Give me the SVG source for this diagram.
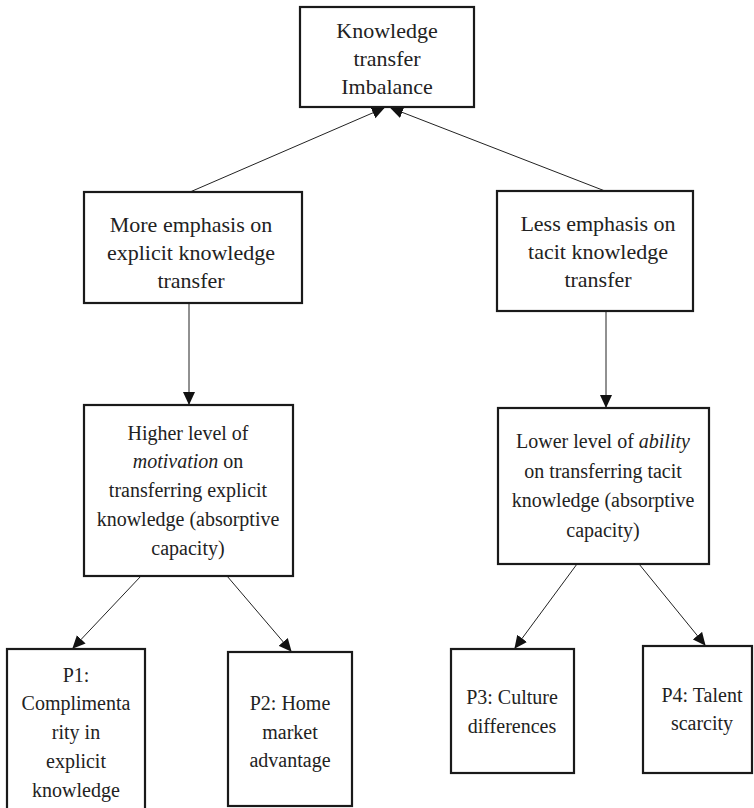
<svg xmlns="http://www.w3.org/2000/svg" width="754" height="808" viewBox="0 0 754 808">
<style>
.box{fill:#fff;stroke:#1a1a1a;stroke-width:2.2}
.l{font-size:22px}
.s{font-size:20px}
.c{stroke:#222;stroke-width:1;fill:none;marker-end:url(#ah)}
</style>
<defs>
<marker id="ah" markerUnits="userSpaceOnUse" markerWidth="13" markerHeight="13" refX="12" refY="6.5" orient="auto" viewBox="0 0 13 13">
<path d="M0,0.5 L13,6.5 L0,12.5 z" fill="#111"/>
</marker>
</defs>
<g id="connectors">
<line class="c" x1="190" y1="192" x2="384" y2="108"/>
<line class="c" x1="605" y1="191" x2="391" y2="108"/>
<line class="c" x1="189" y1="303" x2="189" y2="404"/>
<line class="c" x1="606" y1="311" x2="606" y2="407"/>
<line class="c" x1="141" y1="576" x2="73" y2="648"/>
<line class="c" x1="227" y1="576" x2="291" y2="651"/>
<line class="c" x1="577" y1="564" x2="515" y2="648"/>
<line class="c" x1="639" y1="564" x2="705" y2="645"/>
</g>
<g font-family="Liberation Serif" fill="#222" text-anchor="middle">
<g id="top">
<rect class="box" x="300" y="7" width="174" height="100"/>
<text class="l" x="387" y="38">Knowledge</text>
<text class="l" x="387" y="66">transfer</text>
<text class="l" x="387" y="94">Imbalance</text>
</g>
<g id="explicit">
<rect class="box" x="84" y="192" width="218" height="111"/>
<text class="l" x="191" y="232">More emphasis on</text>
<text class="l" x="191" y="260">explicit knowledge</text>
<text class="l" x="191" y="288">transfer</text>
</g>
<g id="tacit">
<rect class="box" x="497" y="191" width="196" height="120"/>
<text class="l" x="598" y="231">Less emphasis on</text>
<text class="l" x="598" y="259">tacit knowledge</text>
<text class="l" x="598" y="287">transfer</text>
</g>
<g id="motivation">
<rect class="box" x="84" y="405" width="209" height="171"/>
<text class="s" x="188" y="440">Higher level of</text>
<text class="s" x="188" y="468"><tspan font-style="italic">motivation</tspan> on</text>
<text class="s" x="188" y="497">transferring explicit</text>
<text class="s" x="188" y="526">knowledge (absorptive</text>
<text class="s" x="188" y="555">capacity)</text>
</g>
<g id="ability">
<rect class="box" x="498" y="408" width="211" height="156"/>
<text class="s" x="603" y="448">Lower level of <tspan font-style="italic">ability</tspan></text>
<text class="s" x="603" y="478">on transferring tacit</text>
<text class="s" x="603" y="507">knowledge (absorptive</text>
<text class="s" x="603" y="537">capacity)</text>
</g>
<g id="p1">
<rect class="box" x="7" y="649" width="138" height="170"/>
<text class="s" x="76" y="682">P1:</text>
<text class="s" x="76" y="710">Complimenta</text>
<text class="s" x="76" y="739">rity in</text>
<text class="s" x="76" y="768">explicit</text>
<text class="s" x="76" y="797">knowledge</text>
</g>
<g id="p2">
<rect class="box" x="228" y="652" width="124" height="154"/>
<text class="s" x="290" y="710">P2: Home</text>
<text class="s" x="290" y="739">market</text>
<text class="s" x="290" y="767">advantage</text>
</g>
<g id="p3">
<rect class="box" x="451" y="649" width="123" height="124"/>
<text class="s" x="512" y="704">P3: Culture</text>
<text class="s" x="512" y="733">differences</text>
</g>
<g id="p4">
<rect class="box" x="643" y="646" width="109" height="127"/>
<text class="s" x="702" y="702">P4: Talent</text>
<text class="s" x="702" y="730">scarcity</text>
</g>
</g>
</svg>
